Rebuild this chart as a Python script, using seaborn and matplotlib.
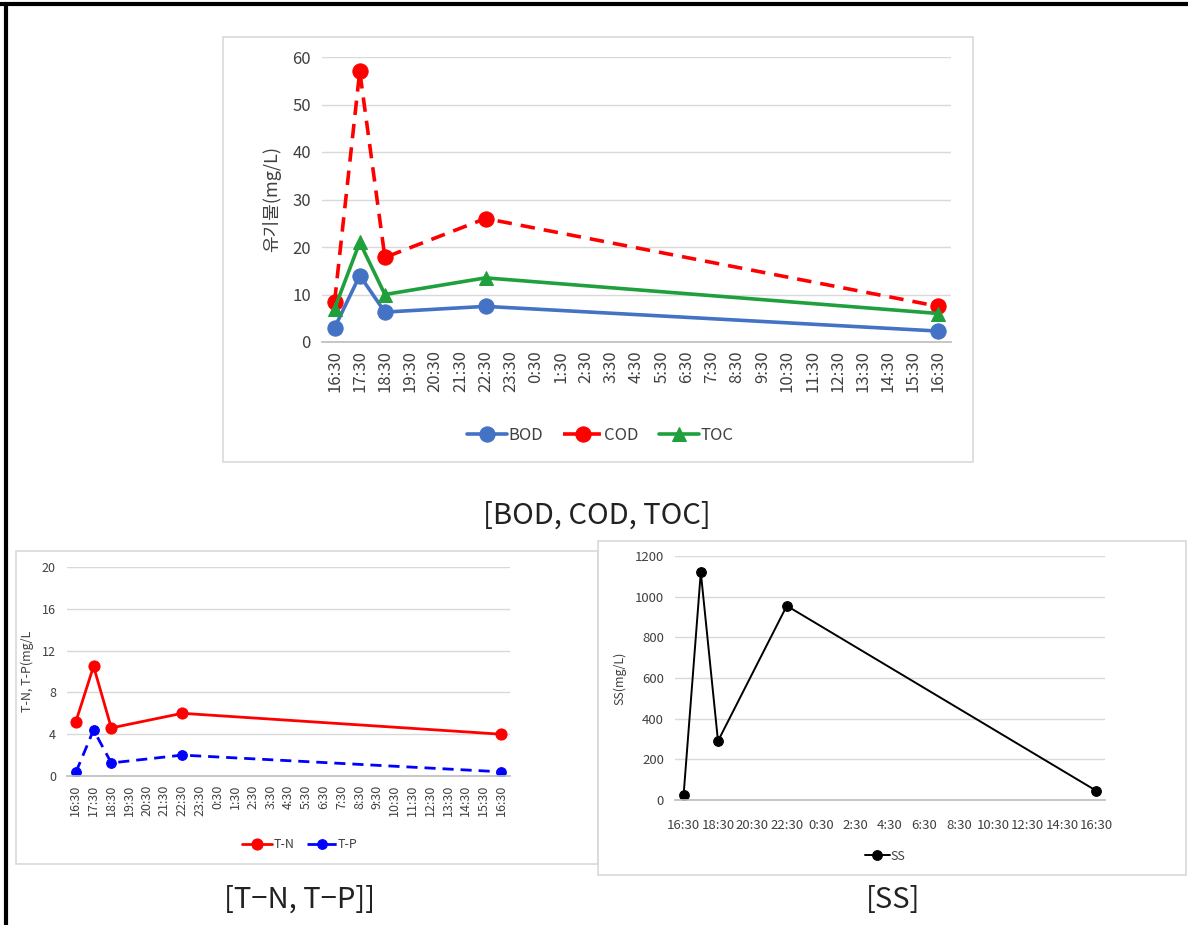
import numpy as np
import pandas as pd
import matplotlib.pyplot as plt
import seaborn as sns
from matplotlib.patches import Rectangle
from matplotlib.lines import Line2D

# x axis: hourly categories over one day
hours = ['16:30', '17:30', '18:30', '19:30', '20:30', '21:30', '22:30', '23:30',
         '0:30', '1:30', '2:30', '3:30', '4:30', '5:30', '6:30', '7:30', '8:30',
         '9:30', '10:30', '11:30', '12:30', '13:30', '14:30', '15:30', '16:30']
sample_pos = [0, 1, 2, 6, 24]  # category index of each sample

bod = [3.0, 14.0, 6.3, 7.5, 2.3]
cod = [8.5, 57.0, 17.8, 26.0, 7.5]
toc = [7.0, 21.0, 10.0, 13.5, 6.0]

tn = [5.2, 10.5, 4.6, 6.0, 4.0]
tp = [0.35, 4.4, 1.25, 2.0, 0.4]

ss = [25, 1120, 290, 955, 45]

sns.set_theme(style="white")
plt.rcParams['font.family'] = ['Noto Sans CJK KR', 'DejaVu Sans']

W, H = 1188, 925
fig = plt.figure(figsize=(W / 100, H / 100), dpi=100)


def px_axes(l, t, r, b):
    return fig.add_axes([l / W, 1 - b / H, (r - l) / W, (b - t) / H])


def px_box(l, t, r, b, color='#D9D9D9', lw=1.2):
    fig.patches.append(Rectangle((l / W, 1 - b / H), (r - l) / W, (b - t) / H,
                                 transform=fig.transFigure, fill=False,
                                 edgecolor=color, linewidth=lw))


def style_axes(ax, ymax, ystep, fs, label_every=1, rot=90):
    ax.set_xlim(-0.5, len(hours) - 0.5)
    ax.set_ylim(0, ymax)
    ax.set_yticks(np.arange(0, ymax + ystep / 2, ystep))
    ax.set_xticks(range(0, len(hours), label_every))
    ax.set_xticklabels(hours[::label_every], rotation=rot, fontsize=fs, color='#404040')
    ax.set_xticks(np.arange(-0.5, len(hours), 1), minor=True)
    ax.tick_params(axis='x', which='major', length=0, pad=6)
    ax.tick_params(axis='x', which='minor', length=5, color='#BFBFBF', width=1)
    ax.tick_params(axis='y', labelsize=fs, colors='#404040', length=0, pad=8)
    ax.grid(axis='y', color='#D9D9D9', linewidth=1)
    ax.grid(axis='x', visible=False)
    for s in ['top', 'right', 'left']:
        ax.spines[s].set_visible(False)
    ax.spines['bottom'].set_color('#BFBFBF')
    ax.set_xlabel('')
    ax.set_facecolor('white')


# ---- top chart: BOD, COD, TOC
px_box(223, 37, 973, 462)
ax1 = px_axes(322, 57, 951, 342)
sns.lineplot(x=sample_pos, y=bod, ax=ax1, color='#4472C4', marker='o', markersize=11,
             markeredgecolor='#4472C4', linewidth=2.6, label='BOD')
sns.lineplot(x=sample_pos, y=cod, ax=ax1, color='#FF0000', marker='o', markersize=11,
             markeredgecolor='#FF0000', linewidth=2.6, linestyle=(0, (4, 2.5)), label='COD')
sns.lineplot(x=sample_pos, y=toc, ax=ax1, color='#1FA03C', marker='^', markersize=10,
             markeredgecolor='#1FA03C', linewidth=2.6, label='TOC')
style_axes(ax1, 60, 10, 12)
ax1.set_ylabel('유기물(mg/L)', fontsize=13, color='#404040', labelpad=8)
ax1.legend(loc='center', bbox_to_anchor=(600 / W, 1 - 435 / H), bbox_transform=fig.transFigure,
           ncol=3, frameon=False, fontsize=12, handlelength=2.4, columnspacing=1.2,
           handletextpad=0.1, labelcolor='#404040')

fig.text(597 / W, 1 - 516 / H, '[BOD, COD, TOC]', ha='center', va='center',
         fontsize=21, color='#222222', fontweight='light')

# ---- bottom left: T-N, T-P
px_box(16, 551, 598, 864)
ax2 = px_axes(67, 567, 510, 776)
sns.lineplot(x=sample_pos, y=tn, ax=ax2, color='#FF0000', marker='o', markersize=8,
             markeredgecolor='#FF0000', linewidth=2.0, label='T-N')
sns.lineplot(x=sample_pos, y=tp, ax=ax2, color='#0000FF', marker='o', markersize=7,
             markeredgecolor='#0000FF', linewidth=2.0, linestyle=(0, (4, 2.5)), label='T-P')
style_axes(ax2, 20, 4, 9)
ax2.set_ylabel('T-N, T-P(mg/L', fontsize=9, color='#404040', labelpad=6)
ax2.legend(loc='center', bbox_to_anchor=(300 / W, 1 - 845 / H), bbox_transform=fig.transFigure,
           ncol=2, frameon=False, fontsize=9, handlelength=2.4, columnspacing=1.0,
           handletextpad=0.1, labelcolor='#404040')

fig.text(300 / W, 1 - 900 / H, '[T\u2212N, T\u2212P]]', ha='center', va='center',
         fontsize=21, color='#222222', fontweight='light')

# ---- bottom right: SS
px_box(598, 541, 1186, 875)
ax3 = px_axes(675, 556, 1105, 800)
sns.lineplot(x=sample_pos, y=ss, ax=ax3, color='black', marker='o', markersize=7,
             markeredgecolor='black', linewidth=1.4, label='SS')
style_axes(ax3, 1200, 200, 9.5, label_every=2, rot=0)
ax3.set_ylabel('SS(mg/L)', fontsize=9, color='#404040', labelpad=6)
ax3.tick_params(axis='x', which='major', pad=14)
ax3.legend(loc='center', bbox_to_anchor=(885 / W, 1 - 856 / H), bbox_transform=fig.transFigure,
           ncol=1, frameon=False, fontsize=9, handlelength=2.0,
           handletextpad=0.1, labelcolor='#404040')

fig.text(893 / W, 1 - 900 / H, '[SS]', ha='center', va='center',
         fontsize=21, color='#222222', fontweight='light')

# black frame along the top and left edge
fig.add_artist(Line2D([0, 1], [1 - 4 / H, 1 - 4 / H], transform=fig.transFigure,
                      color='black', linewidth=3))
fig.add_artist(Line2D([6 / W, 6 / W], [0, 1 - 4 / H], transform=fig.transFigure,
                      color='black', linewidth=3))

fig.savefig('out.png', dpi=100, facecolor='white')
